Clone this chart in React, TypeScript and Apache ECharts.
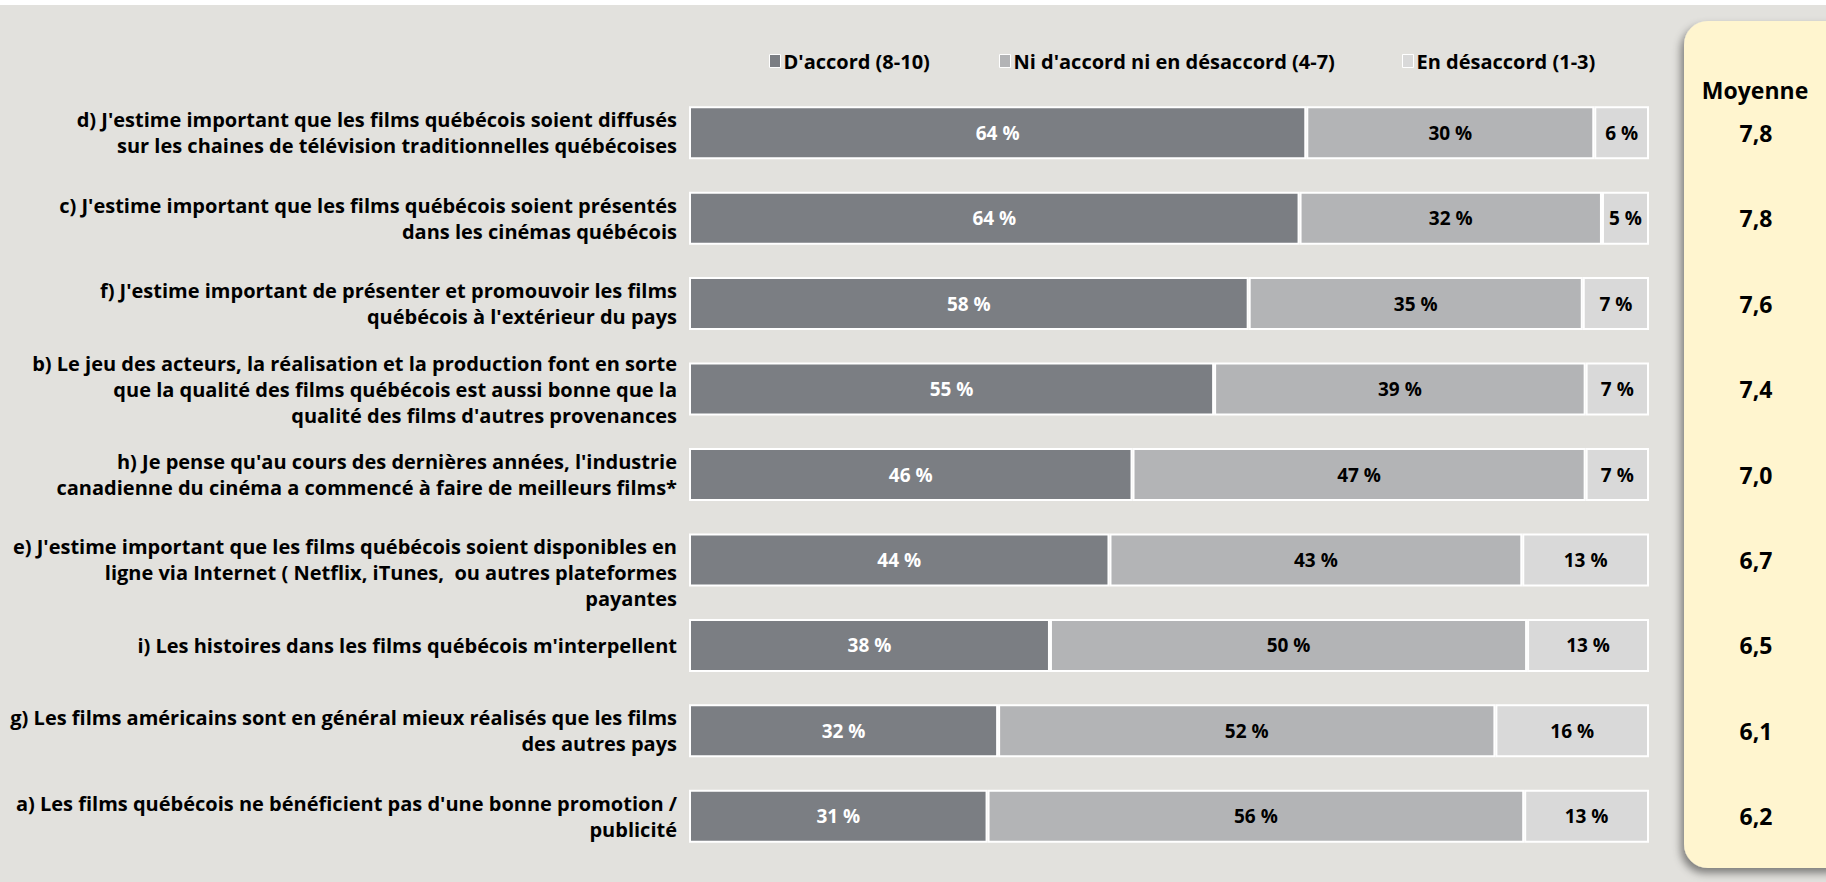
import React, { useEffect, useRef } from "react";
import * as echarts from "echarts";

const categories = [
  "d) J'estime important que les films québécois soient diffusés\nsur les chaines de télévision traditionnelles québécoises",
  "c) J'estime important que les films québécois soient présentés\ndans les cinémas québécois",
  "f) J'estime important de présenter et promouvoir les films\nquébécois à l'extérieur du pays",
  "b) Le jeu des acteurs, la réalisation et la production font en sorte\nque la qualité des films québécois est aussi bonne que la\nqualité des films d'autres provenances",
  "h) Je pense qu'au cours des dernières années, l'industrie\ncanadienne du cinéma a commencé à faire de meilleurs films*",
  "e) J'estime important que les films québécois soient disponibles en\nligne via Internet ( Netflix, iTunes,  ou autres plateformes\npayantes",
  "i) Les histoires dans les films québécois m'interpellent",
  "g) Les films américains sont en général mieux réalisés que les films\ndes autres pays",
  "a) Les films québécois ne bénéficient pas d'une bonne promotion /\npublicité",
];

const seriesNames = ["D'accord (8-10)", "Ni d'accord ni en désaccord (4-7)", "En désaccord (1-3)"];

const accord = [64.3, 63.6, 58.3, 54.7, 46.2, 43.8, 37.6, 32.2, 31.1];
const neutre = [30.0, 31.5, 34.8, 38.7, 47.2, 43.0, 49.7, 51.8, 55.9];
const desaccord = [5.7, 4.9, 6.9, 6.6, 6.6, 13.2, 12.7, 16.0, 13.0];

const moyennes = ["7,8", "7,8", "7,6", "7,4", "7,0", "6,7", "6,5", "6,1", "6,2"];

const colors = ["#7b7e83", "#b3b4b6", "#d9d9d9"];
const FONT = "Open Sans";

export default function App() {
  const ref = useRef<HTMLDivElement>(null);
  useEffect(() => {
    if (!ref.current) return;
    const chart = echarts.init(ref.current, null, { renderer: "svg" });
    const values = [accord, neutre, desaccord];
    const legendLefts = [764, 994, 1397];
    const option: any = {
      animation: false,
      backgroundColor: "#e2e1dd",
      textStyle: { fontFamily: FONT },
      legend: seriesNames.map((n, i) => ({
        data: [n],
        left: legendLefts[i],
        top: 46,
        icon: "rect",
        itemWidth: 11,
        itemHeight: 13,
        itemGap: 4,
        selectedMode: false,
        textStyle: { fontFamily: FONT, fontSize: 20, fontWeight: "bold", color: "#000", padding: [0, 0, 0, -2] },
        itemStyle: { borderColor: "#ffffff", borderWidth: 1 },
      })),
      grid: { left: 689, right: 177, top: 90, bottom: 23, containLabel: false },
      xAxis: {
        type: "value",
        min: 0,
        max: 100,
        show: false,
      },
      yAxis: [
        {
          type: "category",
          inverse: true,
          data: categories,
          axisLine: { show: false },
          axisTick: { show: false },
          axisLabel: {
            margin: 12,
            fontFamily: FONT,
            fontSize: 20,
            fontWeight: "bold",
            color: "#000",
            lineHeight: 26,
            align: "right",
            formatter: (v: string, idx: number) => (idx === 5 ? "\n" + v : v),
          },
        },
        {
          type: "category",
          inverse: true,
          position: "right",
          data: categories,
          axisLine: { show: false },
          axisTick: { show: false },
          axisLabel: {
            margin: 107,
            align: "center",
            fontFamily: FONT,
            fontSize: 23,
            fontWeight: "bold",
            color: "#000",
            formatter: (_v: string, idx: number) => moyennes[idx],
          },
        },
      ],
      series: seriesNames.map((n, i) => ({
        name: n,
        type: "bar",
        stack: "total",
        yAxisIndex: 0,
        barWidth: 53,
        data: values[i],
        itemStyle: { color: colors[i], borderColor: "#ffffff", borderWidth: 2 },
        label: {
          show: true,
          position: "inside",
          fontFamily: FONT,
          fontSize: 19,
          fontWeight: "bold",
          color: i === 0 ? "#ffffff" : "#000000",
          formatter: (p: any) => Math.round(p.value) + " %",
        },
      })),
      graphic: [
        {
          type: "rect",
          z: -10,
          silent: true,
          shape: { x: 0, y: 0, width: 1826, height: 5 },
          style: { fill: "#ffffff" },
        },
        {
          type: "rect",
          z: -5,
          silent: true,
          shape: { x: 1684, y: 21, width: 170, height: 847, r: 24 },
          style: {
            fill: "#fff5cf",
            shadowBlur: 8,
            shadowOffsetX: -3,
            shadowOffsetY: 5,
            shadowColor: "rgba(0,0,0,0.45)",
          },
        },
        {
          type: "text",
          z: 10,
          x: 1755,
          y: 90,
          style: {
            text: "Moyenne",
            fontFamily: FONT,
            fontSize: 23,
            fontWeight: "bold",
            fill: "#000",
            align: "center",
            verticalAlign: "middle",
          },
        },
      ],
    };
    chart.setOption(option);
    return () => chart.dispose();
  }, []);
  return (
    <div
      ref={ref}
      style={{ position: "fixed", left: 0, top: 0, width: 1826, height: 882 }}
    />
  );
}
